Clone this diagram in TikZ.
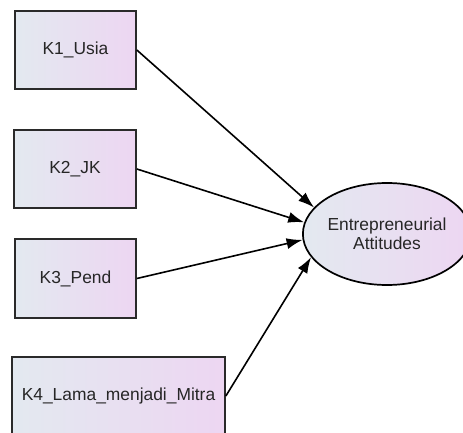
\documentclass[tikz,border=0pt]{standalone}
\usepackage{fontspec}
\setmainfont{Liberation Sans}
\usetikzlibrary{arrows.meta,shapes.geometric}
\definecolor{fillL}{HTML}{E3E9F0}
\definecolor{fillR}{HTML}{EDD6F2}
\definecolor{edgegray}{HTML}{2A2A2A}
\tikzset{
  obsbox/.style={draw=edgegray, line width=1.7pt, left color=fillL, right color=fillR,
    inner sep=0pt, font=\fontsize{17.4}{20}\selectfont, text=black!85},
  latentvar/.style={ellipse, draw=black, line width=1.7pt, left color=fillL, right color=fillR,
    inner sep=0pt, minimum width=166pt, minimum height=102pt, align=center,
    font=\fontsize{17.4}{19.5}\selectfont, text=black!85},
  path/.style={line width=1.6pt, -{Latex[length=16pt,width=11pt]}}
}
\begin{document}
\begin{tikzpicture}[x=1pt,y=-1pt]
\useasboundingbox (0,0) rectangle (463,433);
\clip (0,0) rectangle (463,433);
\node[obsbox, minimum width=121pt, minimum height=78pt] (k1) at (75.5,50) {K1\_Usia};
\node[obsbox, minimum width=122pt, minimum height=78pt] (k2) at (75,169) {K2\_JK};
\node[obsbox, minimum width=121pt, minimum height=79pt] (k3) at (75.5,278.5) {K3\_Pend};
\node[obsbox, minimum width=213pt, minimum height=78pt] (k4) at (118.5,396) {K4\_Lama\_menjadi\_Mitra};
\node[latentvar] (ea) at (387,234) {Entrepreneurial\\Attitudes};
\draw[path] (k1.east) -- (ea.160);
\draw[path] (k2.east) -- (ea.172);
\draw[path] (k3.east) -- (ea.184);
\draw[path] (k4.east) -- (ea.197);
\end{tikzpicture}
\end{document}
